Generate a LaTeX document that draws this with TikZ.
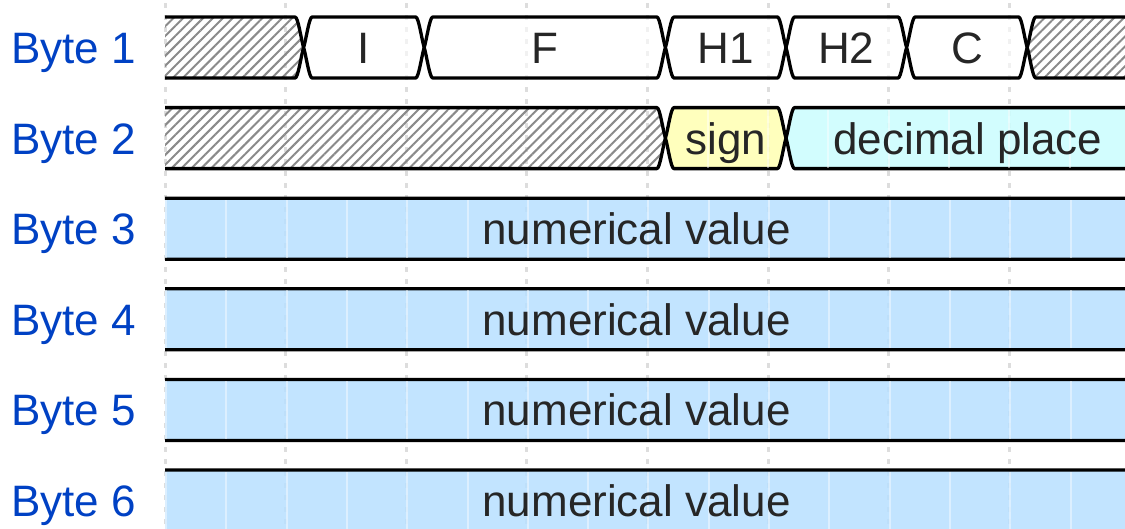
\documentclass[tikz,border=0pt]{standalone}
\usepackage{fontspec}
\setmainfont{Liberation Sans}
\usetikzlibrary{patterns.meta}
\definecolor{lbl}{HTML}{0041C4}
\definecolor{dblue}{HTML}{B9E0FF}
\definecolor{dyel}{HTML}{FFFFB4}
\definecolor{dcyan}{HTML}{CCFDFE}
\definecolor{hatchc}{HTML}{8A8A8A}
\definecolor{gridc}{HTML}{DDDDDD}
\tikzset{
  lab/.style={text=lbl, font=\fontsize{44}{50}\selectfont, anchor=base west, inner sep=0pt},
  dat/.style={text=black!85, font=\fontsize{44}{50}\selectfont, anchor=base, inner sep=0pt},
  wire/.style={draw=black, line width=3.3pt, line join=round},
  hatch/.style={wire, pattern={Lines[angle=45,distance=7pt,line width=2pt]}, pattern color=hatchc},
  blank/.style={wire, fill=white, fill opacity=0.6},
  bluebrick/.style={wire, fill=dblue, fill opacity=0.88},
  signbrick/.style={wire, fill=dyel, fill opacity=0.88},
  decbrick/.style={wire, fill=dcyan, fill opacity=0.88},
  gridline/.style={draw=gridc, line width=3pt, dash pattern=on 5pt off 7pt},
  seam/.style={draw=white, line width=2pt, opacity=0.45},
}
\newcommand{\brk}[4]{%
 \pgfmathsetmacro{\BrT}{#4}\pgfmathsetmacro{\BrM}{#4+30.5}\pgfmathsetmacro{\BrB}{#4+61}%
 \pgfmathsetmacro{\BrAh}{#2+8.5}\pgfmathsetmacro{\BrBh}{#3-8.5}%
 \path[#1] (\BrAh,\BrT) -- (\BrBh,\BrT) .. controls (\BrBh+3,\BrT) and (#3-2.5,\BrM-8) .. (#3,\BrM)
   .. controls (#3-2.5,\BrM+8) and (\BrBh+3,\BrB) .. (\BrBh,\BrB) -- (\BrAh,\BrB)
   .. controls (\BrAh-3,\BrB) and (#2+2.5,\BrM+8) .. (#2,\BrM)
   .. controls (#2+2.5,\BrM-8) and (\BrAh-3,\BrT) .. cycle;}
\begin{document}
\begin{tikzpicture}[x=1pt,y=-1pt]
\useasboundingbox (0,0) rectangle (1125,528);
% grid
\foreach \k in {0,...,8} \draw[gridline] ({165+120.6*\k},3) -- ({165+120.6*\k},530);
\begin{scope}
\clip (165,-5) rectangle (1300,600);
% row 1
\brk{hatch}{135}{303.6}{17}
\brk{blank}{303.6}{424.2}{17}
\brk{blank}{424.2}{665.4}{17}
\brk{blank}{665.4}{786}{17}
\brk{blank}{786}{906.6}{17}
\brk{blank}{906.6}{1027.2}{17}
\brk{hatch}{1027.2}{1200}{17}
% row 2
\brk{hatch}{135}{665.4}{107.6}
\brk{signbrick}{665.4}{786}{107.6}
\brk{decbrick}{786}{1200}{107.6}
% rows 3-6
\brk{bluebrick}{135}{1200}{198.2}
\brk{bluebrick}{135}{1200}{288.8}
\brk{bluebrick}{135}{1200}{379.4}
\brk{bluebrick}{135}{1200}{470}
\end{scope}
% seams
\begin{scope}
\clip (672,110) rectangle (780,167);
\foreach \j in {1,...,16} \draw[seam] ({165+60.3*\j},100) -- ({165+60.3*\j},180);
\end{scope}
\begin{scope}
\clip (795,110) rectangle (1130,167);
\foreach \j in {1,...,16} \draw[seam] ({165+60.3*\j},100) -- ({165+60.3*\j},180);
\end{scope}
\foreach \t in {198.2,288.8,379.4,470} {
\begin{scope}
\clip (165,\t+2) rectangle (1130,\t+59);
\foreach \j in {0,...,16} \draw[seam] ({166+60.3*\j},\t) -- ({166+60.3*\j},\t+61);
\end{scope}
}
% labels
\node[lab] (l1) at (11,63.5) {Byte 1};
\node[lab] (l2) at (11,154.1) {Byte 2};
\node[lab] (l3) at (11,244.7) {Byte 3};
\node[lab] (l4) at (11,335.3) {Byte 4};
\node[lab] (l5) at (11,425.9) {Byte 5};
\node[lab] (l6) at (11,516.5) {Byte 6};
% data texts
\node[dat] (tI) at (363.9,63.5) {I};
\node[dat] (tF) at (544.8,63.5) {F};
\node[dat] (tH1) at (725.7,63.5) {H1};
\node[dat] (tH2) at (846.3,63.5) {H2};
\node[dat] (tC) at (966.9,63.5) {C};
\node[dat] (tsign) at (725.7,154.1) {sign};
\node[dat] (tdec) at (968,154.1) {decimal place};
\node[dat] (tn3) at (636.5,244.7) {numerical value};
\node[dat] (tn4) at (636.5,335.3) {numerical value};
\node[dat] (tn5) at (636.5,425.9) {numerical value};
\node[dat] (tn6) at (636.5,516.5) {numerical value};
\end{tikzpicture}
\end{document}
